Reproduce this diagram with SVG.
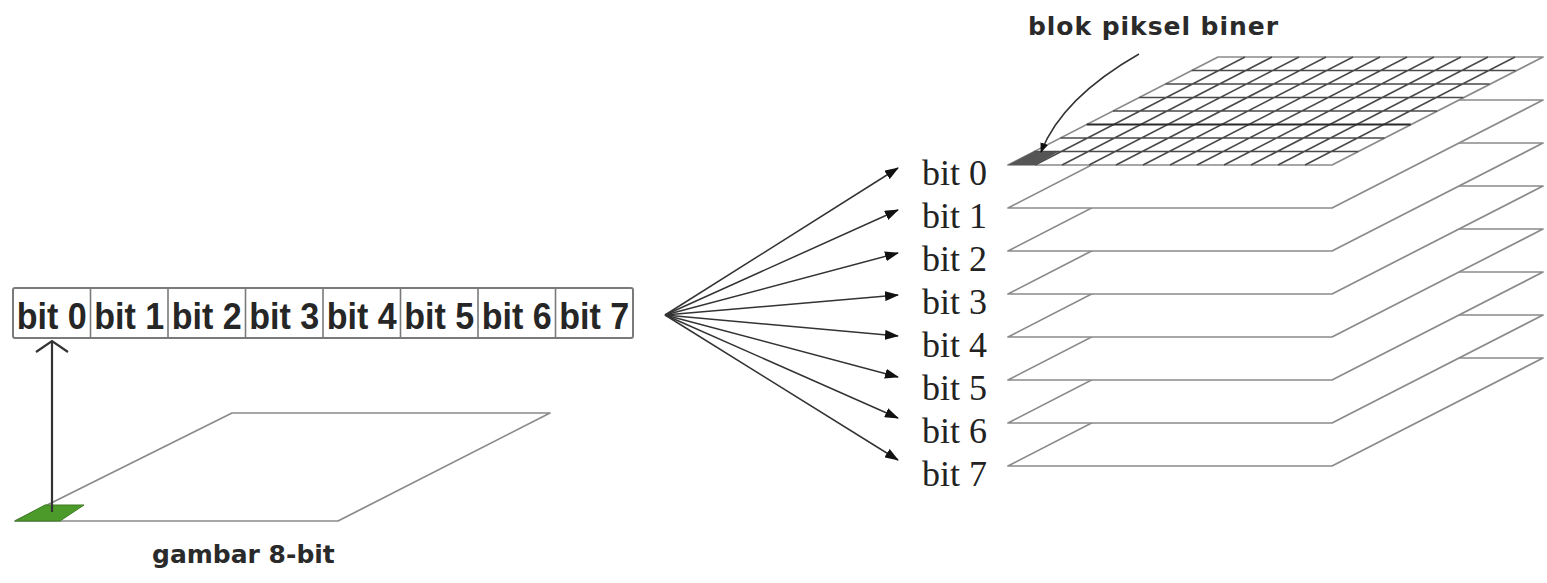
<svg xmlns="http://www.w3.org/2000/svg" width="1547" height="583" viewBox="0 0 1547 583">
<style>
.bx{fill:#fff;stroke:#7a7a7a;stroke-width:2}
.dv{stroke:#7a7a7a;stroke-width:1.6}
.bt{font-family:"Liberation Sans",Arial,sans-serif;font-weight:bold;font-size:37px;fill:#262626;text-anchor:middle}
.lb{font-family:"DejaVu Sans","Liberation Sans",sans-serif;font-weight:bold;font-size:25px;fill:#2a2a2a}
.sr{font-family:"Liberation Serif","Times New Roman",serif;font-size:36px;fill:#222}
.pl{fill:#fff;stroke:#8a8a8a;stroke-width:1.7;stroke-linejoin:round}
.gr{fill:none;stroke:#4a4a4a;stroke-width:1.6}
.ar{fill:none;stroke:#333;stroke-width:1.5}
</style>
<defs>
<marker id="tri" viewBox="0 0 14 10" refX="13" refY="5" markerWidth="14" markerHeight="10" markerUnits="userSpaceOnUse" orient="auto">
<path d="M0,0 L14,5 L0,10 z" fill="#111"/>
</marker>
<marker id="dot" viewBox="0 0 10 8" refX="9" refY="4" markerWidth="10" markerHeight="8" markerUnits="userSpaceOnUse" orient="auto">
<path d="M0,0 L10,4 L0,8 z" fill="#111"/>
</marker>
</defs>
<rect width="1547" height="583" fill="#fff"/>

<g id="left-image">
<polygon class="pl" points="15,521 338,521 550,413 232,413"/>
<polygon points="15,521 60,521 84,505 45,505" fill="#4c9a2a" stroke="#3d7d22" stroke-width="1"/>
</g>
<g id="label-gambar">
<text class="lb" x="152" y="563">gambar 8-bit</text>
</g>

<g id="bit-box">
<rect class="bx" x="13" y="288" width="620" height="50" rx="2"/>
<path class="dv" d="M90.5,288V338M168,288V338M245.5,288V338M323,288V338M400.5,288V338M478,288V338M555.5,288V338"/>
<text class="bt" x="51.75" y="329" textLength="70" lengthAdjust="spacingAndGlyphs">bit 0</text>
<text class="bt" x="129.25" y="329" textLength="70" lengthAdjust="spacingAndGlyphs">bit 1</text>
<text class="bt" x="206.75" y="329" textLength="70" lengthAdjust="spacingAndGlyphs">bit 2</text>
<text class="bt" x="284.25" y="329" textLength="70" lengthAdjust="spacingAndGlyphs">bit 3</text>
<text class="bt" x="361.75" y="329" textLength="70" lengthAdjust="spacingAndGlyphs">bit 4</text>
<text class="bt" x="439.25" y="329" textLength="70" lengthAdjust="spacingAndGlyphs">bit 5</text>
<text class="bt" x="516.75" y="329" textLength="70" lengthAdjust="spacingAndGlyphs">bit 6</text>
<text class="bt" x="594.25" y="329" textLength="70" lengthAdjust="spacingAndGlyphs">bit 7</text>
</g>

<g id="plane-stack">
<polygon class="pl" points="1008,466 1332,466 1543,358 1218,358"/>
<polygon class="pl" points="1008,423 1332,423 1543,315 1218,315"/>
<polygon class="pl" points="1008,380 1332,380 1543,272 1218,272"/>
<polygon class="pl" points="1008,337 1332,337 1543,229 1218,229"/>
<polygon class="pl" points="1008,294 1332,294 1543,186 1218,186"/>
<polygon class="pl" points="1008,251 1332,251 1543,143 1218,143"/>
<polygon class="pl" points="1008,208 1332,208 1543,100 1218,100"/>
<polygon class="pl" points="1008,165 1332,165 1543,57 1218,57" stroke="#444"/>
<path class="gr" d="M1191.75,70.5H1515.75M1165.5,84H1489.5M1139.25,97.5H1463.25M1113,111H1437M1060.5,138H1384.5M1034.25,151.5H1358.25
M1035,165L1245,57M1062,165L1272,57M1089,165L1299,57M1116,165L1326,57M1143,165L1353,57M1170,165L1380,57M1197,165L1407,57M1224,165L1434,57M1251,165L1461,57M1278,165L1488,57M1305,165L1515,57"/>
<path d="M1086.75,124.5H1410.75" stroke="#2a2a2a" stroke-width="2"/>
<polygon points="1008,165 1035,165 1058,152 1034,151.5" fill="#555"/>
</g>

<g id="label-blok">
<text class="lb" x="1028" y="35" textLength="250" lengthAdjust="spacing">blok piksel biner</text>
</g>

<g id="bit-labels">
<text class="sr" x="922" y="185">bit 0</text>
<text class="sr" x="922" y="228">bit 1</text>
<text class="sr" x="922" y="271">bit 2</text>
<text class="sr" x="922" y="314">bit 3</text>
<text class="sr" x="922" y="357">bit 4</text>
<text class="sr" x="922" y="400">bit 5</text>
<text class="sr" x="922" y="443">bit 6</text>
<text class="sr" x="922" y="486">bit 7</text>
</g>

<g id="connectors">
<path d="M52,512V341" stroke="#333" stroke-width="2.2" fill="none"/>
<polyline points="36,352 52,341 68,352" fill="none" stroke="#333" stroke-width="2.2"/>
<path class="ar" d="M665,315L898,168" marker-end="url(#tri)"/>
<path class="ar" d="M665,315L898,210" marker-end="url(#tri)"/>
<path class="ar" d="M665,315L898,253" marker-end="url(#tri)"/>
<path class="ar" d="M665,315L898,295" marker-end="url(#tri)"/>
<path class="ar" d="M665,315L898,336" marker-end="url(#tri)"/>
<path class="ar" d="M665,315L898,377" marker-end="url(#tri)"/>
<path class="ar" d="M665,315L898,418" marker-end="url(#tri)"/>
<path class="ar" d="M665,315L898,460" marker-end="url(#tri)"/>
<path d="M1139,54Q1062,98 1041,152" fill="none" stroke="#333" stroke-width="1.5" marker-end="url(#dot)"/>
</g>
</svg>
